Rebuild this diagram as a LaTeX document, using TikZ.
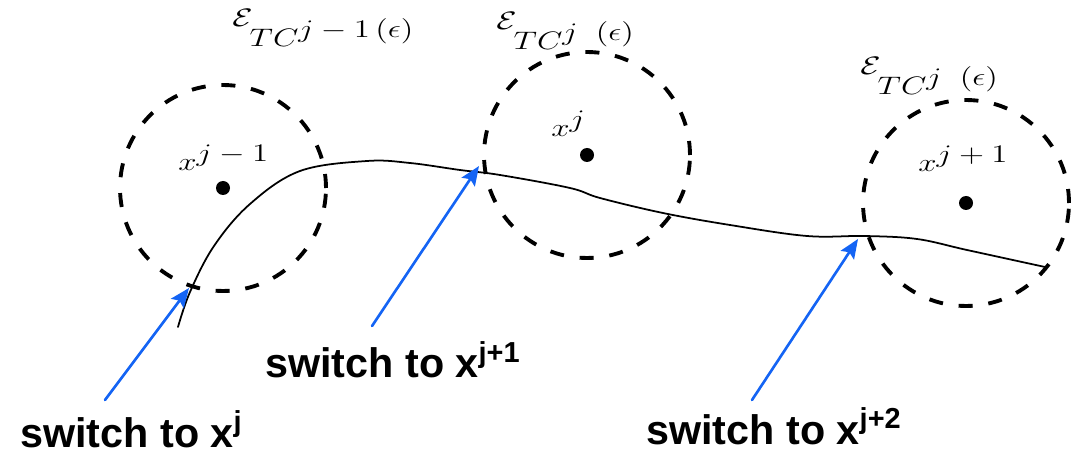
\documentclass[tikz,border=0pt]{standalone}
\usepackage{fontspec}
\usepackage{graphicx}
\usetikzlibrary{arrows.meta}
\newfontfamily\switchfont{Liberation Sans}
\definecolor{SwitchBlue}{HTML}{1464F4}
\newcommand{\tclbl}[1]{\scalebox{1.3}[1]{\fontsize{15}{17}\selectfont$\mathcal{E}_{\textstyle TC^{\textstyle #1(\epsilon)}}$}}
\newcommand{\ptlbl}[1]{\scalebox{1.3}[1]{\fontsize{14}{16}\selectfont$x^{\textstyle #1}$}}

\begin{document}
\begin{tikzpicture}[x=0.02cm,y=-0.02cm,line cap=round,line join=round]
  \tikzset{region/.style={circle,draw,line width=2.2pt,line cap=butt,dash pattern=on 8pt off 9pt,minimum size=4.12cm,inner sep=0pt},
    switcharrow/.style={SwitchBlue,line width=1.5pt,-{Stealth[length=11pt,width=9pt,inset=2pt]}},
    switchlbl/.style={anchor=base west,inner sep=0pt,font=\switchfont\bfseries\fontsize{23.5}{27}\selectfont},
    mathlbl/.style={anchor=base west,inner sep=0pt}}
  \useasboundingbox (0,0) rectangle (1081,455);
  % neighbourhoods and their centres
  \node[region] (c1) at (223,188) {}; \fill (c1.center) circle[radius=0.14cm];
  \node[region] (c2) at (587,155) {}; \fill (c2.center) circle[radius=0.14cm];
  \node[region] (c3) at (966,203) {}; \fill (c3.center) circle[radius=0.14cm];
  \node[mathlbl] (e1) at (232,27) {\tclbl{j-1\,}};
  \node[mathlbl] (e2) at (496,30) {\tclbl{j\;\;}};
  \node[mathlbl] (e3) at (860,75) {\tclbl{j\;\;}};
  \node[mathlbl] (x1) at (178,171) {\ptlbl{j-1}};
  \node[mathlbl] (x2) at (551,137) {\ptlbl{j}};
  \node[mathlbl] (x3) at (918,172) {\ptlbl{j+1}};
  % trajectory
  \draw[line width=1pt] plot[smooth,tension=0.6] coordinates {(178,327) (190,292) (214,246) (250,204)
    (300,171) (367,161) (410,163) (460,170) (500,175) (570,188) (600,198) (663,213) (730,225) (807,236)
    (865,236) (917,239) (967,250) (1045,267)};
  % switching points
  \coordinate (p1) at (189,288); \coordinate (p2) at (479,166); \coordinate (p3) at (858,239);
  \coordinate (t1) at (105,400); \coordinate (t2) at (372,326); \coordinate (t3) at (752,400);
  \draw[switcharrow] (t1) -- (p1);
  \draw[switcharrow] (t2) -- (p2);
  \draw[switcharrow] (t3) -- (p3);
  \node[switchlbl] (s1) at (20,447) {switch to x\textsuperscript{j}};
  \node[switchlbl] (s2) at (265,378) {switch to x\textsuperscript{j+1}};
  \node[switchlbl] (s3) at (646,444) {switch to x\textsuperscript{j+2}};
\end{tikzpicture}
\end{document}
